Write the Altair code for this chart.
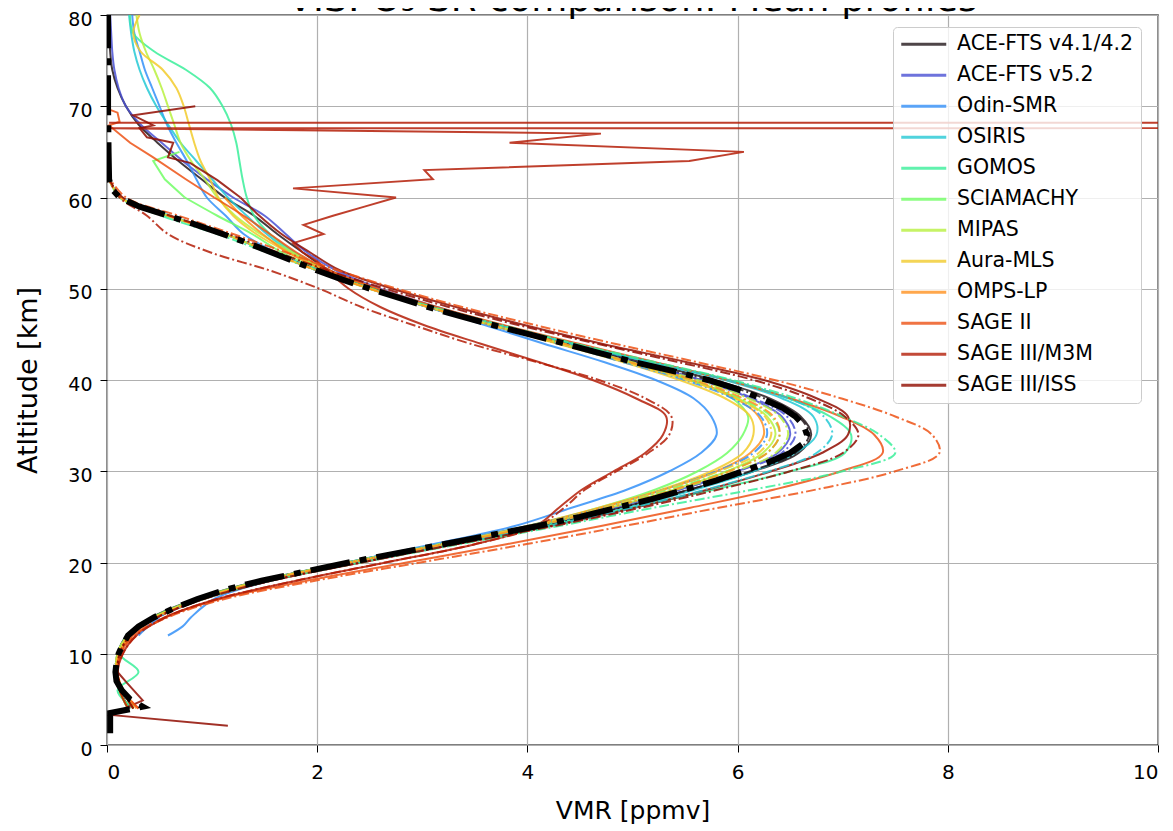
import altair as alt
import pandas as pd

TITLE = "VIS: O\u2083 SR comparison: Mean profiles"
NAMES = ["ACE-FTS v4.1/4.2", "ACE-FTS v5.2", "Odin-SMR", "OSIRIS", "GOMOS", "SCIAMACHY",
         "MIPAS", "Aura-MLS", "OMPS-LP", "SAGE II", "SAGE III/M3M", "SAGE III/ISS"]
X_TICKS = [0, 2, 4, 6, 8, 10]
Y_TICKS = [0, 10, 20, 30, 40, 50, 60, 70, 80]

# ---- solid profiles (smooth part) ----
ALT_MAIN = [4, 6, 8, 10, 12, 14, 16, 18, 20, 22, 24, 26, 28, 30, 32, 34, 36, 38, 40, 42,
            44, 46, 48, 50, 52, 54, 56, 58, 60]
ALT_HIGH = [62, 64, 66, 68, 70, 72, 74, 76, 78, 80]

ACE41_S = [0.22, 0.12, 0.09, 0.10, 0.19, 0.43, 0.85, 1.45, 2.28, 3.18, 4.08, 4.88, 5.55, 6.15, 6.58,
           6.70, 6.60, 6.30, 5.78, 5.08, 4.40, 3.72, 3.10, 2.56, 2.12, 1.86, 1.62, 1.40, 1.12]
ACE41_H = [0.90, 0.68, 0.48, 0.30, 0.18, 0.10, 0.05, 0.03, 0.02, 0.01]
ACE52_S = [0.20, 0.12, 0.09, 0.11, 0.21, 0.45, 0.88, 1.48, 2.30, 3.20, 4.08, 4.82, 5.45, 6.00, 6.38,
           6.50, 6.42, 6.12, 5.65, 5.02, 4.38, 3.74, 3.14, 2.60, 2.18, 1.90, 1.70, 1.50, 1.20]
ACE52_H = [0.95, 0.72, 0.52, 0.32, 0.18, 0.11, 0.07, 0.05, 0.04, 0.03]
ODIN_ALT = [12, 13, 14, 16, 18, 20, 22, 24, 26, 28, 30, 32, 34, 36, 38, 40, 42, 44, 46, 48, 50, 52,
            54, 56, 58, 60]
ODIN_S = [0.58, 0.72, 0.80, 1.02, 1.55, 2.28, 3.10, 3.88, 4.42, 4.95, 5.35, 5.65, 5.80, 5.75, 5.58,
          5.22, 4.72, 4.15, 3.60, 3.05, 2.52, 2.02, 1.60, 1.30, 1.13, 0.95]
ODIN_H = [0.85, 0.76, 0.66, 0.57, 0.50, 0.43, 0.36, 0.31, 0.26, 0.24]
OSIRIS_S = [0.20, 0.12, 0.09, 0.10, 0.20, 0.45, 0.88, 1.50, 2.35, 3.25, 4.15, 4.95, 5.60, 6.15, 6.55,
            6.75, 6.72, 6.42, 5.88, 5.15, 4.42, 3.74, 3.10, 2.55, 2.10, 1.75, 1.52, 1.33, 1.15]
OSIRIS_H = [1.00, 0.85, 0.70, 0.58, 0.47, 0.38, 0.31, 0.26, 0.23, 0.21]
GOMOS_S = [0.25, 0.10, 0.30, 0.12, 0.20, 0.45, 0.90, 1.50, 2.32, 3.22, 4.15, 5.00, 5.78, 6.50, 7.02,
           7.08, 6.88, 6.48, 5.92, 5.18, 4.45, 3.76, 3.12, 2.56, 2.10, 1.78, 1.55, 1.40, 1.33]
GOMOS_H = [1.29, 1.26, 1.23, 1.18, 1.10, 0.98, 0.75, 0.45, 0.25, 0.22]
SCIA_S = [0.20, 0.12, 0.09, 0.10, 0.20, 0.44, 0.86, 1.46, 2.28, 3.15, 4.00, 4.68, 5.22, 5.62, 5.90,
          6.05, 6.10, 5.95, 5.55, 4.95, 4.30, 3.66, 3.06, 2.52, 2.04, 1.66, 1.38, 1.05, 0.74]
SCIA_H_ALT = [62, 64, 65]
SCIA_H = [0.55, 0.44, 0.69]
MIPAS_S = [0.20, 0.12, 0.09, 0.10, 0.20, 0.45, 0.87, 1.47, 2.30, 3.20, 4.05, 4.78, 5.40, 5.90, 6.24,
           6.36, 6.28, 6.00, 5.55, 4.96, 4.32, 3.70, 3.10, 2.56, 2.10, 1.76, 1.46, 1.22, 1.05]
MIPAS_H = [0.93, 0.80, 0.70, 0.64, 0.58, 0.52, 0.45, 0.37, 0.31, 0.28]
AURA_S = [0.20, 0.12, 0.09, 0.10, 0.21, 0.46, 0.88, 1.50, 2.30, 3.18, 4.00, 4.68, 5.28, 5.75, 6.05,
          6.15, 6.12, 5.88, 5.45, 4.90, 4.28, 3.66, 3.07, 2.54, 2.07, 1.72, 1.42, 1.20, 1.06]
AURA_H = [0.98, 0.89, 0.83, 0.78, 0.73, 0.66, 0.53, 0.32, 0.25, 0.31]
OMPS_S = [0.25, 0.15, 0.10, 0.12, 0.22, 0.47, 0.90, 1.50, 2.32, 3.20, 4.02, 4.70, 5.30, 5.80, 6.12,
          6.25, 6.20, 5.98, 5.55, 4.95, 4.30, 3.66, 3.06, 2.53, 2.08, 1.72, 1.48, 1.28, 1.12]
SAGE2_S = [0.30, 0.15, 0.10, 0.13, 0.25, 0.55, 1.08, 1.90, 2.85, 3.80, 4.70, 5.55, 6.35, 6.98, 7.38,
           7.30, 6.98, 6.50, 5.90, 5.20, 4.48, 3.78, 3.14, 2.58, 2.12, 1.80, 1.55, 1.30, 1.02]
SAGE2_H_ALT = [60, 62, 64.4, 66, 67.9, 68.3, 69.3, 69.6]
SAGE2_H = [1.02, 0.75, 0.44, 0.22, 0.02, 0.12, 0.10, 0.03]
M3M_ALT = [4, 6, 8, 10, 12, 14, 16, 18, 20, 22, 24, 26, 28, 30, 32, 34, 36, 38, 40, 42, 44, 46,
           48, 50, 52]
M3M_S = [0.20, 0.12, 0.10, 0.15, 0.28, 0.56, 1.05, 1.80, 2.65, 3.50, 4.08, 4.30, 4.52, 4.82, 5.12,
         5.29, 5.32, 5.03, 4.62, 4.10, 3.55, 3.02, 2.60, 2.30, 2.10]
M3M_H_ALT = [52, 53, 54, 55, 56, 57, 58, 59, 60, 61, 62, 63, 64, 65, 66, 67, 67.6, 67.9, 68.2]
M3M_H = [2.10, 2.00, 1.86, 1.77, 2.06, 1.87, 2.15, 2.45, 2.75, 1.77, 3.10, 3.02, 5.54, 6.06, 3.83,
         4.70, 0.02, 1000.0, 0.02]
ISS_ALT = [8, 10, 12, 14, 16, 18, 20, 22, 24, 26, 28, 30, 32, 34, 36, 38, 40, 42, 44, 46, 48, 50,
           52, 54, 56, 58, 60]
ISS_S = [0.10, 0.12, 0.22, 0.48, 0.92, 1.56, 2.42, 3.32, 4.22, 5.02, 5.72, 6.32, 6.80, 7.05, 7.05,
         6.75, 6.25, 5.50, 4.70, 3.98, 3.32, 2.72, 2.22, 1.93, 1.66, 1.45, 1.27]
ISS_H_ALT = [60, 61.9, 63.8, 64.4, 66, 66.6, 67.6, 67.9, 69, 70]
ISS_H = [1.27, 1.05, 0.79, 0.58, 0.63, 0.38, 0.31, 0.44, 0.25, 0.84]
ISS_L_ALT = [2.1, 3.3, 4.9, 6.8, 8]
ISS_L = [1.15, 0.03, 0.34, 0.19, 0.10]

# ---- dash-dot profiles ----
ALT_DASH = [4, 6, 8, 10, 12, 14, 16, 18, 20, 22, 24, 26, 28, 30, 32, 34, 36, 38, 40, 42,
            44, 46, 48, 50, 52, 54, 56, 58, 60, 62]
ACE41_D = [0.25, 0.15, 0.08, 0.11, 0.20, 0.45, 0.88, 1.47, 2.30, 3.20, 4.10, 4.88, 5.55, 6.12, 6.55,
           6.68, 6.58, 6.25, 5.72, 5.02, 4.36, 3.70, 3.07, 2.52, 2.02, 1.57, 1.13, 0.60, 0.14, 0.02]
ACE52_D = [0.25, 0.15, 0.08, 0.11, 0.20, 0.45, 0.88, 1.47, 2.30, 3.20, 4.08, 4.82, 5.45, 6.00, 6.42,
           6.55, 6.47, 6.15, 5.65, 4.98, 4.33, 3.68, 3.05, 2.50, 2.00, 1.55, 1.12, 0.58, 0.13, 0.02]
ODIN_D_ALT = [12, 14, 16, 18, 20, 22, 24, 26, 28, 30, 32, 34, 36, 38, 40, 42, 44, 46, 48, 50, 52,
              54, 56, 58, 60, 62]
ODIN_D = [0.30, 0.50, 0.90, 1.48, 2.28, 3.15, 4.00, 4.72, 5.30, 5.80, 6.15, 6.28, 6.22, 5.95, 5.50,
          4.90, 4.30, 3.66, 3.05, 2.50, 2.00, 1.55, 1.12, 0.58, 0.13, 0.02]
OSIRIS_D = [0.25, 0.15, 0.08, 0.11, 0.20, 0.45, 0.90, 1.50, 2.35, 3.27, 4.20, 5.00, 5.70, 6.30, 6.75,
            6.90, 6.82, 6.48, 5.90, 5.15, 4.42, 3.72, 3.08, 2.52, 2.02, 1.56, 1.12, 0.60, 0.14, 0.02]
GOMOS_D = [0.25, 0.15, 0.08, 0.11, 0.20, 0.46, 0.92, 1.55, 2.42, 3.35, 4.30, 5.20, 6.15, 7.00, 7.50,
           7.35, 7.00, 6.55, 5.95, 5.20, 4.45, 3.76, 3.10, 2.52, 2.00, 1.52, 1.05, 0.52, 0.12, 0.02]
SCIA_D = [0.25, 0.15, 0.08, 0.11, 0.20, 0.45, 0.88, 1.47, 2.30, 3.20, 4.05, 4.75, 5.35, 5.90, 6.28,
          6.40, 6.32, 6.02, 5.55, 4.95, 4.32, 3.68, 3.06, 2.50, 2.00, 1.55, 1.12, 0.58, 0.13, 0.02]
MIPAS_D = [0.25, 0.15, 0.08, 0.11, 0.20, 0.45, 0.88, 1.47, 2.30, 3.20, 4.08, 4.80, 5.42, 5.98, 6.36,
           6.48, 6.40, 6.10, 5.62, 4.98, 4.34, 3.68, 3.06, 2.50, 2.00, 1.55, 1.12, 0.58, 0.13, 0.02]
AURA_D = [0.25, 0.15, 0.08, 0.11, 0.20, 0.45, 0.88, 1.47, 2.30, 3.18, 4.02, 4.72, 5.30, 5.82, 6.20,
          6.32, 6.26, 5.98, 5.52, 4.92, 4.30, 3.66, 3.05, 2.50, 2.00, 1.55, 1.12, 0.58, 0.13, 0.02]
OMPS_D = [0.28, 0.16, 0.09, 0.12, 0.22, 0.47, 0.90, 1.50, 2.32, 3.22, 4.08, 4.78, 5.40, 5.92, 6.28,
          6.40, 6.34, 6.05, 5.58, 4.96, 4.34, 3.68, 3.06, 2.50, 2.00, 1.55, 1.12, 0.58, 0.13, 0.02]
SAGE2_D = [0.30, 0.15, 0.10, 0.13, 0.26, 0.58, 1.12, 1.98, 2.98, 3.98, 4.92, 5.82, 6.75, 7.50, 7.92,
           7.85, 7.50, 6.98, 6.35, 5.60, 4.82, 4.08, 3.38, 2.76, 2.20, 1.70, 1.20, 0.68, 0.18, 0.03]
M3M_D = [0.25, 0.15, 0.10, 0.15, 0.28, 0.56, 1.05, 1.80, 2.65, 3.50, 4.10, 4.35, 4.55, 4.85, 5.15,
         5.35, 5.37, 5.12, 4.68, 4.08, 3.45, 2.92, 2.42, 2.02, 1.55, 0.98, 0.58, 0.38, 0.12, 0.02]
ISS_D = [0.25, 0.15, 0.10, 0.12, 0.22, 0.48, 0.92, 1.56, 2.42, 3.32, 4.25, 5.08, 5.82, 6.50, 7.00,
         7.15, 7.02, 6.68, 6.15, 5.42, 4.65, 3.92, 3.25, 2.65, 2.10, 1.62, 1.15, 0.60, 0.15, 0.02]

# ---- thick black mean profile ----
MEAN_ALT = [1.3, 3.5, 4.2, 5, 6, 7, 8, 9, 10, 11, 12, 13, 14, 15, 16, 17, 18, 19, 20, 21, 22, 23,
            24, 25, 26, 27, 28, 29, 30, 31, 32, 33, 34, 35, 36, 37, 38, 39, 40, 41, 42, 43, 44, 45,
            46, 47, 48, 49, 50, 51, 52, 53, 54, 55, 56, 57, 58, 59, 60, 61, 62, 65, 70, 75, 80]
MEAN_VMR = [0.03, 0.03, 0.34, 0.22, 0.14, 0.09, 0.08, 0.09, 0.11, 0.15, 0.20, 0.30, 0.45, 0.64,
            0.86, 1.12, 1.47, 1.88, 2.30, 2.75, 3.20, 3.65, 4.10, 4.50, 4.85, 5.20, 5.50, 5.80,
            6.05, 6.30, 6.50, 6.62, 6.66, 6.63, 6.55, 6.42, 6.22, 6.00, 5.72, 5.38, 5.00, 4.67,
            4.35, 4.02, 3.68, 3.36, 3.05, 2.78, 2.50, 2.24, 2.00, 1.78, 1.56, 1.34, 1.10, 0.85,
            0.58, 0.31, 0.12, 0.04, 0.02, 0.015, 0.01, 0.01, 0.01]


def turbo(t):
    r = 34.61 + t * (1172.33 - t * (10793.56 - t * (33300.12 - t * (38394.49 - t * 14825.05))))
    g = 23.31 + t * (557.33 + t * (1225.33 - t * (3574.96 - t * (1073.77 + t * 707.56))))
    b = 27.2 + t * (3211.1 - t * (15327.97 - t * (27814 - t * (22569.18 - t * 6838.66))))
    c = lambda v: max(0, min(255, int(round(v))))
    return "#%02x%02x%02x" % (c(r), c(g), c(b))


COLORS = [turbo(i / 11) for i in range(12)]

smooth_rows, linear_rows, dash_rows = [], [], []


def add(rows, name, key, alts, vals):
    for a, v in zip(alts, vals):
        rows.append({"name": name, "key": key, "alt": a, "vmr": v})


n = NAMES
add(smooth_rows, n[0], "s0", ALT_MAIN + ALT_HIGH, ACE41_S + ACE41_H)
add(smooth_rows, n[1], "s1", ALT_MAIN + ALT_HIGH, ACE52_S + ACE52_H)
add(smooth_rows, n[2], "s2", ODIN_ALT + ALT_HIGH, ODIN_S + ODIN_H)
add(smooth_rows, n[3], "s3", ALT_MAIN + ALT_HIGH, OSIRIS_S + OSIRIS_H)
add(smooth_rows, n[4], "s4", ALT_MAIN + ALT_HIGH, GOMOS_S + GOMOS_H)
add(smooth_rows, n[5], "s5", ALT_MAIN, SCIA_S)
add(linear_rows, n[5], "l5", [60] + SCIA_H_ALT, [SCIA_S[-1]] + SCIA_H)
add(smooth_rows, n[6], "s6", ALT_MAIN + ALT_HIGH, MIPAS_S + MIPAS_H)
add(smooth_rows, n[7], "s7", ALT_MAIN + ALT_HIGH, AURA_S + AURA_H)
add(smooth_rows, n[8], "s8", ALT_MAIN, OMPS_S)
add(smooth_rows, n[9], "s9", ALT_MAIN, SAGE2_S)
add(linear_rows, n[9], "l9", SAGE2_H_ALT, SAGE2_H)
add(smooth_rows, n[10], "s10", M3M_ALT, M3M_S)
add(linear_rows, n[10], "l10", M3M_H_ALT, M3M_H)
add(smooth_rows, n[11], "s11", ISS_ALT, ISS_S)
add(linear_rows, n[11], "l11", ISS_H_ALT, ISS_H)
add(linear_rows, n[11], "m11", ISS_L_ALT, ISS_L)

dash_lists = [ACE41_D, ACE52_D, None, OSIRIS_D, GOMOS_D, SCIA_D, MIPAS_D, AURA_D, OMPS_D,
              SAGE2_D, M3M_D, ISS_D]
for i, d in enumerate(dash_lists):
    if i == 2:
        add(dash_rows, n[2], "d2", ODIN_D_ALT, ODIN_D)
    else:
        add(dash_rows, n[i], "d%d" % i, ALT_DASH, d)

mean_df = pd.DataFrame({"alt": MEAN_ALT, "vmr": MEAN_VMR})
smooth_df = pd.DataFrame(smooth_rows)
linear_df = pd.DataFrame(linear_rows)
dash_df = pd.DataFrame(dash_rows)

FONT = "DejaVu Sans"
W, H = 1051, 730

x_enc = alt.X("vmr:Q", scale=alt.Scale(domain=[0, 10], nice=False, zero=False),
              axis=alt.Axis(values=X_TICKS, title="VMR [ppmv]", format="d", labelPadding=10,
                            labelFontSize=20,
                            titleFontSize=25, titleX=W / 2, titleY=65, titleBaseline="middle"))
y_enc = alt.Y("alt:Q", scale=alt.Scale(domain=[0, 80], nice=False, zero=False),
              axis=alt.Axis(values=Y_TICKS, title="Atltitude [km]", format="d", labelPadding=8,
                            labelOffset=4, labelFontSize=19,
                            titleFontSize=27, titleX=-79, titleY=H / 2, titleBaseline="middle"))

legend = alt.Legend(title=None, orient="none", legendX=786, legendY=12,
                    symbolType="M-3.75,0L3.75,0", symbolSize=144, symbolStrokeWidth=3,
                    symbolOpacity=0.8, symbolOffset=13.5, labelOffset=23,
                    labelFontSize=20.5, labelFont=FONT, labelColor="#000000", labelLimit=400,
                    rowPadding=10, padding=7, fillColor="rgba(255,255,255,0.8)",
                    strokeColor="#cccccc", cornerRadius=4)
color_scale = alt.Scale(domain=NAMES, range=COLORS)

solid_smooth = alt.Chart(smooth_df).mark_line(
    interpolate="catmull-rom", strokeWidth=2, opacity=0.85, clip=True
).encode(x=x_enc, y=y_enc, color=alt.Color("name:N", scale=color_scale, legend=legend),
         detail="key:N", order="alt:Q")

solid_linear = alt.Chart(linear_df).mark_line(
    strokeWidth=2, opacity=0.85, clip=True
).encode(x=x_enc, y=y_enc, color=alt.Color("name:N", scale=color_scale, legend=legend),
         detail="key:N", order="alt:Q")

dashed = alt.Chart(dash_df).mark_line(
    interpolate="catmull-rom", strokeWidth=2, opacity=0.85, clip=True, strokeDash=[10, 3, 2, 3]
).encode(x=x_enc, y=y_enc, color=alt.Color("name:N", scale=color_scale, legend=legend),
         detail="key:N", order="alt:Q")

mean_line = alt.Chart(mean_df).mark_line(
    color="black", strokeWidth=6, clip=True, strokeDash=[40, 10, 7, 10]
).encode(x=x_enc, y=y_enc, order="alt:Q")

title = alt.Chart(pd.DataFrame({"t": [TITLE]})).mark_text(
    font=FONT, fontSize=37, color="#000000", baseline="alphabetic", align="center"
).encode(x=alt.value(W / 2), y=alt.value(-4), text="t:N")

chart = alt.layer(solid_smooth, solid_linear, dashed, mean_line, title).properties(
    width=W, height=H, autosize=alt.AutoSizeParams(type="none"),
    padding={"left": 99, "top": 7, "right": 7, "bottom": 80}
).configure_view(stroke="#000000", strokeWidth=1.3).configure_axis(
    labelFont=FONT, titleFont=FONT, labelColor="#000000",
    titleColor="#000000", titleFontWeight="normal", tickColor="#000000", tickSize=7,
    domain=False, grid=True, gridColor="#b0b0b0", gridWidth=1.2
)

chart.save("out.html", embed_options={"renderer": "svg", "actions": False})
